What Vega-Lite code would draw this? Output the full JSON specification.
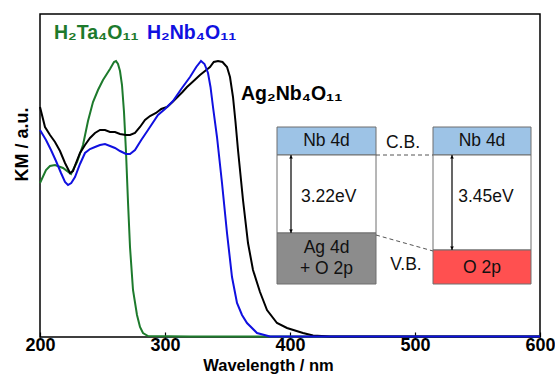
{
  "$schema": "https://vega.github.io/schema/vega-lite/v6.json",
  "width": 500,
  "height": 323,
  "autosize": {"type": "none"},
  "padding": {"left": 40, "top": 14, "right": 15, "bottom": 37},
  "background": "white",
  "config": {
    "view": {"stroke": "#000", "strokeWidth": 1.5},
    "font": "Liberation Sans"
  },
  "datasets": {
    "spectra": [
      {"s": "H2Ta4O11", "wl": 200, "km": 154}, {"s": "H2Ta4O11", "wl": 204.8, "km": 167}, {"s": "H2Ta4O11", "wl": 208, "km": 171}, {"s": "H2Ta4O11", "wl": 212, "km": 172}, {"s": "H2Ta4O11", "wl": 218.4, "km": 169}, {"s": "H2Ta4O11", "wl": 224.8, "km": 163}, {"s": "H2Ta4O11", "wl": 229.6, "km": 175}, {"s": "H2Ta4O11", "wl": 234.4, "km": 192}, {"s": "H2Ta4O11", "wl": 238.4, "km": 216}, {"s": "H2Ta4O11", "wl": 242.4, "km": 235}, {"s": "H2Ta4O11", "wl": 246.4, "km": 247}, {"s": "H2Ta4O11", "wl": 250.4, "km": 257}, {"s": "H2Ta4O11", "wl": 256, "km": 268}, {"s": "H2Ta4O11", "wl": 259.2, "km": 275}, {"s": "H2Ta4O11", "wl": 260.8, "km": 276}, {"s": "H2Ta4O11", "wl": 262.4, "km": 273}, {"s": "H2Ta4O11", "wl": 264, "km": 266}, {"s": "H2Ta4O11", "wl": 265.6, "km": 252}, {"s": "H2Ta4O11", "wl": 267.2, "km": 225}, {"s": "H2Ta4O11", "wl": 268.8, "km": 185}, {"s": "H2Ta4O11", "wl": 270.4, "km": 135}, {"s": "H2Ta4O11", "wl": 272, "km": 90}, {"s": "H2Ta4O11", "wl": 274.4, "km": 47}, {"s": "H2Ta4O11", "wl": 277.6, "km": 22}, {"s": "H2Ta4O11", "wl": 280, "km": 10}, {"s": "H2Ta4O11", "wl": 282.4, "km": 4}, {"s": "H2Ta4O11", "wl": 286.4, "km": 1}, {"s": "H2Ta4O11", "wl": 320, "km": 0.5}, {"s": "H2Ta4O11", "wl": 400, "km": 0.5}, {"s": "H2Ta4O11", "wl": 500, "km": 0.5}, {"s": "H2Ta4O11", "wl": 600, "km": 0.5},
      {"s": "Ag2Nb4O11", "wl": 200, "km": 230}, {"s": "Ag2Nb4O11", "wl": 204, "km": 210}, {"s": "Ag2Nb4O11", "wl": 208, "km": 202}, {"s": "Ag2Nb4O11", "wl": 212, "km": 195}, {"s": "Ag2Nb4O11", "wl": 216, "km": 186}, {"s": "Ag2Nb4O11", "wl": 220, "km": 174}, {"s": "Ag2Nb4O11", "wl": 224, "km": 164}, {"s": "Ag2Nb4O11", "wl": 226.4, "km": 166}, {"s": "Ag2Nb4O11", "wl": 228.8, "km": 174}, {"s": "Ag2Nb4O11", "wl": 232, "km": 184}, {"s": "Ag2Nb4O11", "wl": 236, "km": 192}, {"s": "Ag2Nb4O11", "wl": 240, "km": 199}, {"s": "Ag2Nb4O11", "wl": 244, "km": 204}, {"s": "Ag2Nb4O11", "wl": 248, "km": 207}, {"s": "Ag2Nb4O11", "wl": 252, "km": 207}, {"s": "Ag2Nb4O11", "wl": 256, "km": 205}, {"s": "Ag2Nb4O11", "wl": 260, "km": 205}, {"s": "Ag2Nb4O11", "wl": 264, "km": 203}, {"s": "Ag2Nb4O11", "wl": 268.8, "km": 202}, {"s": "Ag2Nb4O11", "wl": 272, "km": 202}, {"s": "Ag2Nb4O11", "wl": 276, "km": 204}, {"s": "Ag2Nb4O11", "wl": 280, "km": 210}, {"s": "Ag2Nb4O11", "wl": 284, "km": 217}, {"s": "Ag2Nb4O11", "wl": 288, "km": 221}, {"s": "Ag2Nb4O11", "wl": 292.8, "km": 224}, {"s": "Ag2Nb4O11", "wl": 297, "km": 228}, {"s": "Ag2Nb4O11", "wl": 301.6, "km": 230}, {"s": "Ag2Nb4O11", "wl": 306, "km": 235}, {"s": "Ag2Nb4O11", "wl": 310, "km": 240}, {"s": "Ag2Nb4O11", "wl": 314, "km": 245}, {"s": "Ag2Nb4O11", "wl": 317.6, "km": 250}, {"s": "Ag2Nb4O11", "wl": 322, "km": 255}, {"s": "Ag2Nb4O11", "wl": 328, "km": 262}, {"s": "Ag2Nb4O11", "wl": 332, "km": 266}, {"s": "Ag2Nb4O11", "wl": 336, "km": 270}, {"s": "Ag2Nb4O11", "wl": 339, "km": 275}, {"s": "Ag2Nb4O11", "wl": 342.4, "km": 276}, {"s": "Ag2Nb4O11", "wl": 346, "km": 275}, {"s": "Ag2Nb4O11", "wl": 349.6, "km": 270}, {"s": "Ag2Nb4O11", "wl": 352, "km": 260}, {"s": "Ag2Nb4O11", "wl": 354.4, "km": 240}, {"s": "Ag2Nb4O11", "wl": 356.4, "km": 215}, {"s": "Ag2Nb4O11", "wl": 358.4, "km": 187}, {"s": "Ag2Nb4O11", "wl": 362.4, "km": 137}, {"s": "Ag2Nb4O11", "wl": 366.4, "km": 94}, {"s": "Ag2Nb4O11", "wl": 370.4, "km": 67}, {"s": "Ag2Nb4O11", "wl": 376, "km": 45}, {"s": "Ag2Nb4O11", "wl": 381.6, "km": 27}, {"s": "Ag2Nb4O11", "wl": 389.6, "km": 14}, {"s": "Ag2Nb4O11", "wl": 397.6, "km": 9}, {"s": "Ag2Nb4O11", "wl": 410.4, "km": 4}, {"s": "Ag2Nb4O11", "wl": 418.4, "km": 1.5}, {"s": "Ag2Nb4O11", "wl": 432, "km": 0.5}, {"s": "Ag2Nb4O11", "wl": 600, "km": 0.5},
      {"s": "H2Nb4O11", "wl": 200, "km": 207}, {"s": "H2Nb4O11", "wl": 204.8, "km": 197}, {"s": "H2Nb4O11", "wl": 208.8, "km": 187}, {"s": "H2Nb4O11", "wl": 212.8, "km": 176}, {"s": "H2Nb4O11", "wl": 216.8, "km": 164}, {"s": "H2Nb4O11", "wl": 220, "km": 155}, {"s": "H2Nb4O11", "wl": 222.4, "km": 152}, {"s": "H2Nb4O11", "wl": 225, "km": 154}, {"s": "H2Nb4O11", "wl": 228, "km": 160}, {"s": "H2Nb4O11", "wl": 232, "km": 173}, {"s": "H2Nb4O11", "wl": 236, "km": 184}, {"s": "H2Nb4O11", "wl": 240, "km": 188}, {"s": "H2Nb4O11", "wl": 244, "km": 190}, {"s": "H2Nb4O11", "wl": 248, "km": 192}, {"s": "H2Nb4O11", "wl": 252, "km": 193}, {"s": "H2Nb4O11", "wl": 256, "km": 191}, {"s": "H2Nb4O11", "wl": 260, "km": 189}, {"s": "H2Nb4O11", "wl": 264, "km": 186}, {"s": "H2Nb4O11", "wl": 268.8, "km": 183}, {"s": "H2Nb4O11", "wl": 272, "km": 183}, {"s": "H2Nb4O11", "wl": 276, "km": 187}, {"s": "H2Nb4O11", "wl": 281, "km": 197}, {"s": "H2Nb4O11", "wl": 286.4, "km": 207}, {"s": "H2Nb4O11", "wl": 294.4, "km": 222}, {"s": "H2Nb4O11", "wl": 300, "km": 228}, {"s": "H2Nb4O11", "wl": 306.4, "km": 236}, {"s": "H2Nb4O11", "wl": 313, "km": 248}, {"s": "H2Nb4O11", "wl": 320, "km": 260}, {"s": "H2Nb4O11", "wl": 325, "km": 270}, {"s": "H2Nb4O11", "wl": 328.8, "km": 276}, {"s": "H2Nb4O11", "wl": 331.6, "km": 273}, {"s": "H2Nb4O11", "wl": 334.4, "km": 264}, {"s": "H2Nb4O11", "wl": 336.4, "km": 250}, {"s": "H2Nb4O11", "wl": 338.4, "km": 230}, {"s": "H2Nb4O11", "wl": 341.6, "km": 200}, {"s": "H2Nb4O11", "wl": 345.6, "km": 154}, {"s": "H2Nb4O11", "wl": 349.6, "km": 104}, {"s": "H2Nb4O11", "wl": 353.6, "km": 60}, {"s": "H2Nb4O11", "wl": 357.6, "km": 34}, {"s": "H2Nb4O11", "wl": 361.6, "km": 22}, {"s": "H2Nb4O11", "wl": 365.6, "km": 14}, {"s": "H2Nb4O11", "wl": 373.6, "km": 4}, {"s": "H2Nb4O11", "wl": 384, "km": 0.5}, {"s": "H2Nb4O11", "wl": 450, "km": 0.5}, {"s": "H2Nb4O11", "wl": 600, "km": 0.5}
    ],
    "labels": [
      {"s": "H2Ta4O11", "t": "H₂Ta₄O₁₁", "x": 211.2, "y": 304},
      {"s": "H2Nb4O11", "t": "H₂Nb₄O₁₁", "x": 285.6, "y": 304},
      {"s": "Ag2Nb4O11", "t": "Ag₂Nb₄O₁₁", "x": 360.8, "y": 243}
    ],
    "bands": [
      {"band": "cb", "x1": 389.6, "x2": 468.8, "y1": 182, "y2": 210},
      {"band": "gap", "x1": 389.6, "x2": 468.8, "y1": 104, "y2": 182},
      {"band": "ag", "x1": 389.6, "x2": 468.8, "y1": 53, "y2": 104},
      {"band": "cb", "x1": 514.4, "x2": 592.8, "y1": 182, "y2": 210},
      {"band": "gap", "x1": 514.4, "x2": 592.8, "y1": 87, "y2": 182},
      {"band": "o", "x1": 514.4, "x2": 592.8, "y1": 53, "y2": 87}
    ],
    "insetText": [
      {"t": "Nb 4d", "x": 429.2, "y": 196},
      {"t": "Nb 4d", "x": 553.6, "y": 196},
      {"t": "Ag 4d", "x": 429.2, "y": 89},
      {"t": "+ O 2p", "x": 429.2, "y": 68},
      {"t": "O 2p", "x": 553.6, "y": 69},
      {"t": "3.22eV", "x": 431, "y": 140},
      {"t": "3.45eV", "x": 556.8, "y": 140},
      {"t": "C.B.", "x": 490.4, "y": 194},
      {"t": "V.B.", "x": 492.8, "y": 72}
    ],
    "dashes": [
      {"x1": 468.8, "y1": 182, "x2": 514.4, "y2": 182},
      {"x1": 468.8, "y1": 102, "x2": 514.4, "y2": 86}
    ],
    "arrows": [
      {"x": 400.8, "top": 182, "bot": 104},
      {"x": 529.6, "top": 182, "bot": 87}
    ]
  },
  "layer": [
    {
      "data": {"name": "spectra"},
      "mark": {"type": "line", "strokeWidth": 2, "interpolate": "linear"},
      "encoding": {
        "x": {
          "field": "wl", "type": "quantitative",
          "scale": {"domain": [200, 600], "nice": false, "zero": false},
          "axis": {
            "values": [200, 300, 400, 500, 600],
            "grid": false, "domain": false,
            "tickSize": -5, "tickColor": "#000", "tickWidth": 1.2,
            "labelFont": "Liberation Sans", "labelFontSize": 18, "labelFontWeight": "bold", "labelColor": "#000",
            "labelPadding": 4, "labelFlush": false, "labelOverlap": false,
            "title": "Wavelength / nm",
            "titleFont": "Liberation Sans", "titleFontSize": 16.5, "titleFontWeight": "bold", "titleColor": "#000",
            "titleX": 228, "titleY": 33, "titleAlign": "center", "titleBaseline": "alphabetic"
          }
        },
        "y": {
          "field": "km", "type": "quantitative",
          "scale": {"domain": [0, 323], "nice": false},
          "axis": {
            "labels": false, "ticks": false, "domain": false, "grid": false,
            "title": "KM / a.u.",
            "titleFont": "Liberation Sans", "titleFontSize": 18, "titleFontWeight": "bold", "titleColor": "#000",
            "titleX": -13, "titleY": 130, "titleAngle": -90, "titleAlign": "center", "titleBaseline": "alphabetic"
          }
        },
        "color": {
          "field": "s", "type": "nominal",
          "scale": {"domain": ["H2Ta4O11", "H2Nb4O11", "Ag2Nb4O11"], "range": ["#1d7a2c", "#1010e0", "#000000"]},
          "legend": null
        }
      }
    },
    {
      "data": {"name": "labels"},
      "mark": {"type": "text", "align": "left", "baseline": "middle", "fontSize": 19.5, "fontWeight": "bold", "font": "Liberation Sans"},
      "encoding": {
        "x": {"field": "x", "type": "quantitative"},
        "y": {"field": "y", "type": "quantitative"},
        "text": {"field": "t"},
        "color": {"field": "s", "type": "nominal", "legend": null}
      }
    },
    {
      "data": {"name": "bands"},
      "mark": {"type": "rect", "stroke": "#6e6e6e", "strokeWidth": 1},
      "encoding": {
        "x": {"field": "x1", "type": "quantitative"},
        "x2": {"field": "x2"},
        "y": {"field": "y1", "type": "quantitative"},
        "y2": {"field": "y2"},
        "fill": {
          "field": "band", "type": "nominal",
          "scale": {"domain": ["cb", "gap", "ag", "o"], "range": ["#9dc3e6", "#ffffff", "#8c8c8c", "#ff5050"]},
          "legend": null
        }
      }
    },
    {
      "data": {"name": "dashes"},
      "mark": {"type": "rule", "strokeDash": [4, 3], "color": "#555", "strokeWidth": 1},
      "encoding": {
        "x": {"field": "x1", "type": "quantitative"},
        "x2": {"field": "x2"},
        "y": {"field": "y1", "type": "quantitative"},
        "y2": {"field": "y2"}
      }
    },
    {
      "data": {"name": "arrows"},
      "mark": {"type": "rule", "color": "#000", "strokeWidth": 1.2},
      "encoding": {
        "x": {"field": "x", "type": "quantitative"},
        "y": {"field": "top", "type": "quantitative"},
        "y2": {"field": "bot"}
      }
    },
    {
      "data": {"name": "arrows"},
      "mark": {"type": "point", "shape": "triangle-up", "filled": true, "color": "#000", "size": 14, "yOffset": 2, "opacity": 1},
      "encoding": {
        "x": {"field": "x", "type": "quantitative"},
        "y": {"field": "top", "type": "quantitative"}
      }
    },
    {
      "data": {"name": "arrows"},
      "mark": {"type": "point", "shape": "triangle-down", "filled": true, "color": "#000", "size": 14, "yOffset": -2, "opacity": 1},
      "encoding": {
        "x": {"field": "x", "type": "quantitative"},
        "y": {"field": "bot", "type": "quantitative"}
      }
    },
    {
      "data": {"name": "insetText"},
      "mark": {"type": "text", "align": "center", "baseline": "middle", "fontSize": 17.5, "font": "Liberation Sans", "color": "#111"},
      "encoding": {
        "x": {"field": "x", "type": "quantitative"},
        "y": {"field": "y", "type": "quantitative"},
        "text": {"field": "t"}
      }
    },
    {
      "mark": {"type": "rule", "color": "#a6a6a6", "strokeWidth": 1.5},
      "encoding": {"x": {"datum": 600, "type": "quantitative"}}
    }
  ]
}
